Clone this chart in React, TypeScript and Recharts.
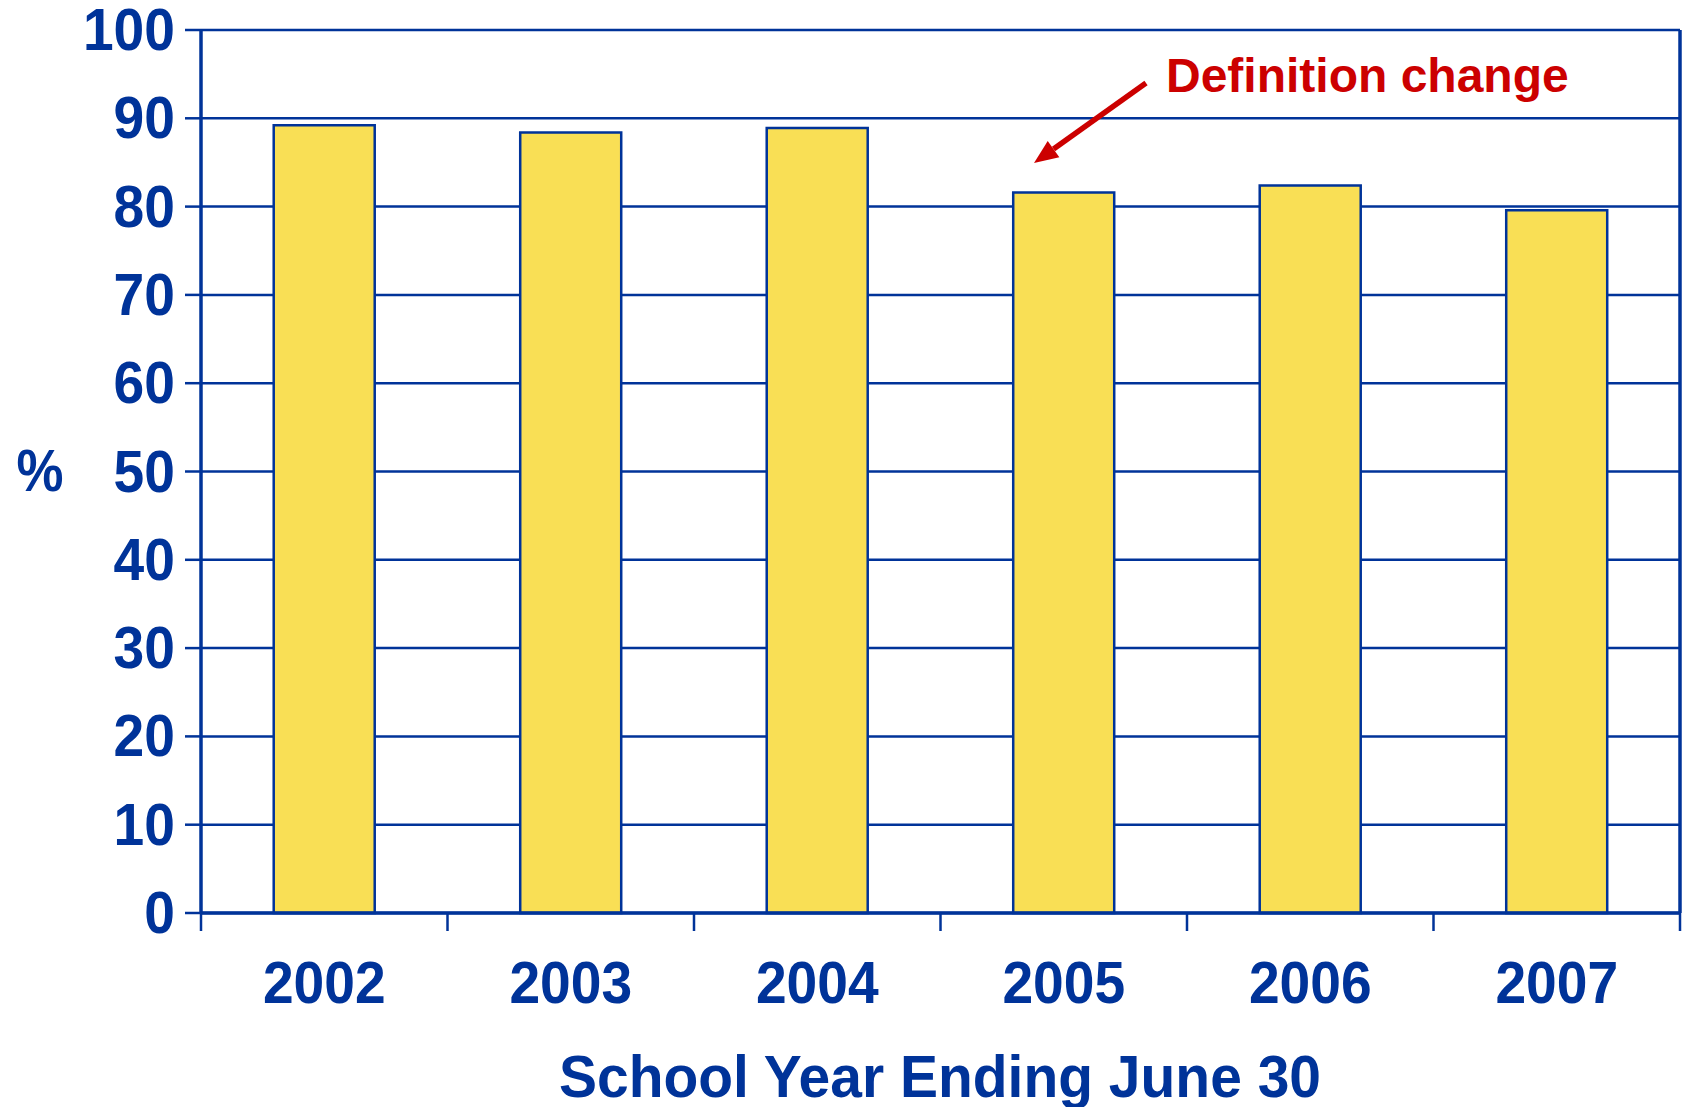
import React from "react";
import {
  BarChart,
  Bar,
  XAxis,
  YAxis,
  CartesianGrid,
  Customized,
} from "recharts";

const years = ["2002", "2003", "2004", "2005", "2006", "2007"];
const percents = [89.2, 88.4, 88.9, 81.6, 82.4, 79.6];
const yTicks = [0, 10, 20, 30, 40, 50, 60, 70, 80, 90, 100];

const data = years.map((year, i) => ({ year, value: percents[i] }));

const BLUE = "#003399";
const RED = "#CC0000";
const YELLOW = "#F9DF55";
const FONT = "'Liberation Sans', Arial, sans-serif";

const W = 1688;
const H = 1107;

// y tick labels: bold, a bit condensed like the original
const YTick = (props: any) => {
  const { x, y, payload } = props;
  return (
    <text
      transform={`translate(${x},${y + 20}) scale(0.92,1)`}
      textAnchor="end"
      fill={BLUE}
      fontSize={60}
      fontWeight="bold"
      fontFamily={FONT}
    >
      {payload.value}
    </text>
  );
};

// x ticks: tick marks sit on the category boundaries, labels at centres
const XTick = (props: any) => {
  const { x, y, payload, index } = props;
  const half = payload && payload.offset ? payload.offset : 123;
  return (
    <g>
      <line x1={x - half} x2={x - half} y1={y} y2={y + 18} stroke={BLUE} strokeWidth={2.5} />
      {index === years.length - 1 && (
        <line x1={x + half} x2={x + half} y1={y} y2={y + 18} stroke={BLUE} strokeWidth={2.5} />
      )}
      <text
        transform={`translate(${x},${y + 90}) scale(0.92,1)`}
        textAnchor="middle"
        fill={BLUE}
        fontSize={60}
        fontWeight="bold"
        fontFamily={FONT}
      >
        {payload.value}
      </text>
    </g>
  );
};

// axis titles + the "Definition change" note
const Overlay = () => {
  const tip = { x: 1034, y: 163 };
  const start = { x: 1146, y: 83 };
  const dx = tip.x - start.x;
  const dy = tip.y - start.y;
  const len = Math.sqrt(dx * dx + dy * dy);
  const ux = dx / len;
  const uy = dy / len;
  const headLen = 24;
  const headHalf = 10;
  const bx = tip.x - ux * headLen;
  const by = tip.y - uy * headLen;
  const px = -uy * headHalf;
  const py = ux * headHalf;
  return (
    <g>
      <text
        transform={`translate(40,491) scale(0.88,1)`}
        textAnchor="middle"
        fill={BLUE}
        fontSize={60}
        fontWeight="bold"
        fontFamily={FONT}
      >
        %
      </text>
      <text
        transform={`translate(940,1097) scale(0.95,1)`}
        textAnchor="middle"
        fill={BLUE}
        fontSize={60}
        fontWeight="bold"
        fontFamily={FONT}
      >
        School Year Ending June 30
      </text>
      <text
        x={1166}
        y={92}
        fill={RED}
        fontSize={48}
        fontWeight="bold"
        fontFamily={FONT}
      >
        Definition change
      </text>
      <line x1={start.x} y1={start.y} x2={bx} y2={by} stroke={RED} strokeWidth={5.5} />
      <polygon
        points={`${tip.x},${tip.y} ${bx + px},${by + py} ${bx - px},${by - py}`}
        fill={RED}
      />
    </g>
  );
};

export default function App() {
  return (
    <div style={{ position: "absolute", left: 0, top: 0, width: W, height: H, background: "#fff" }}>
      <BarChart
        width={W}
        height={H}
        data={data}
        margin={{ top: 30, right: 0, bottom: 0, left: 0 }}
        barCategoryGap="29.5%"
      >
        <CartesianGrid vertical={false} stroke={BLUE} strokeWidth={2.5} />
        <XAxis
          dataKey="year"
          height={194}
          axisLine={{ stroke: BLUE, strokeWidth: 3.5 }}
          tickLine={false}
          tickSize={0}
          tickMargin={0}
          tick={<XTick />}
          interval={0}
        />
        <YAxis
          domain={[0, 100]}
          ticks={yTicks}
          width={201}
          axisLine={{ stroke: BLUE, strokeWidth: 3.5 }}
          tickLine={{ stroke: BLUE, strokeWidth: 2.5 }}
          tickSize={16}
          tickMargin={10}
          tick={<YTick />}
          interval={0}
        />
        <YAxis
          yAxisId="right"
          orientation="right"
          domain={[0, 100]}
          width={8}
          tick={false}
          tickLine={false}
          axisLine={{ stroke: BLUE, strokeWidth: 3.5 }}
        />
        <Bar
          dataKey="value"
          fill={YELLOW}
          stroke={BLUE}
          strokeWidth={2.5}
          isAnimationActive={false}
        />
        <Customized component={<Overlay />} />
      </BarChart>
    </div>
  );
}
